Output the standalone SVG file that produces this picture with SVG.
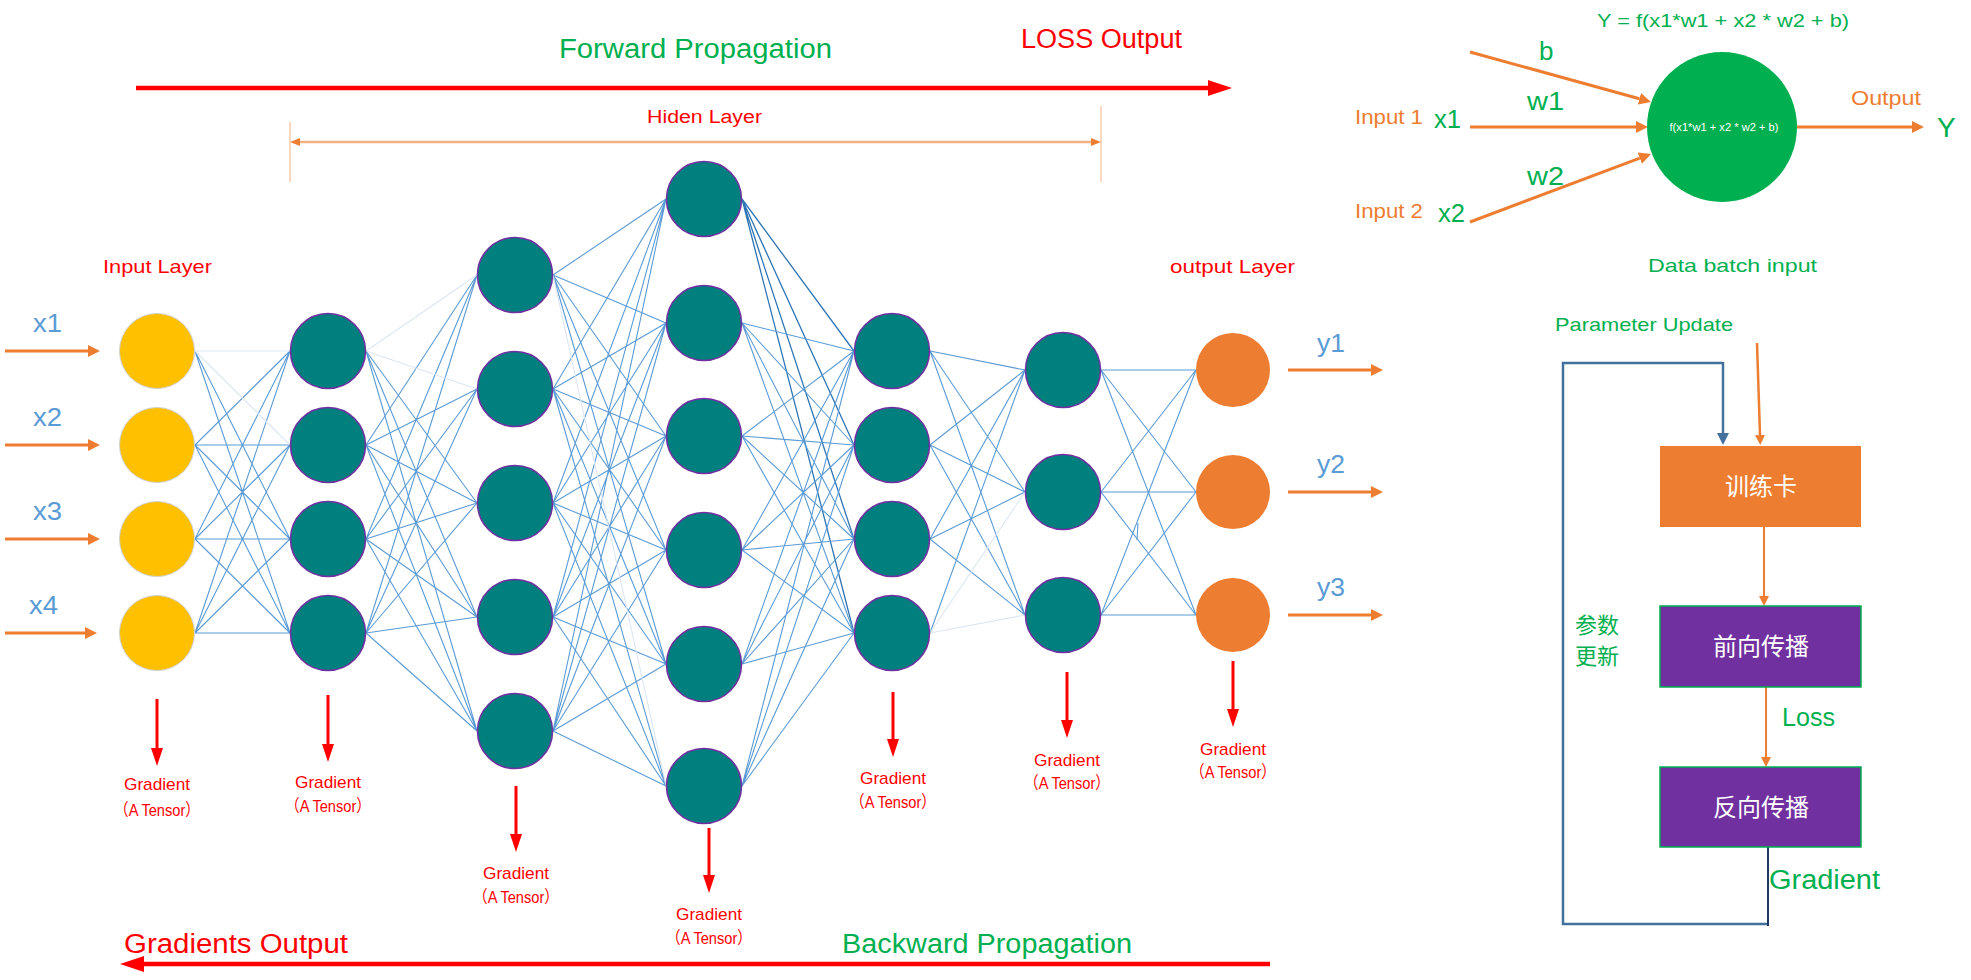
<svg xmlns="http://www.w3.org/2000/svg" width="1971" height="980" viewBox="0 0 1971 980">
<style>
text{font-family:"Liberation Sans","Noto Sans CJK SC",sans-serif}
.cjk{font-family:"Noto Sans CJK SC","Liberation Sans",sans-serif}
.red{fill:#FF0000}
.green{fill:#00B050}
.orange{fill:#ED7D31}
.blue{fill:#5B9BD5}
.conn{stroke:#5B9BD5;stroke-width:1.1;fill:none}
.faint{stroke:#DCE6F4;stroke-width:1.1;fill:none}
.dark{stroke:#2E75B6;stroke-width:1.3;fill:none}
.teal{fill:#007F7F;stroke:#7030A0;stroke-width:1.6}
.yel{fill:#FFC000;stroke:#D0D0D0;stroke-width:1}
.onode{fill:#ED7D31}
.garrow{stroke:#FF0000;stroke-width:3;marker-end:url(#mRed)}
.iarrow{stroke:#ED7D31;stroke-width:3;marker-end:url(#mOr)}
.glab{font-size:17px;fill:#FF0000;text-anchor:middle}
</style>
<defs>
<marker id="mRed" markerUnits="userSpaceOnUse" markerWidth="18" markerHeight="12" viewBox="0 0 18 12" refX="0" refY="6" orient="auto"><path d="M0,0L18,6L0,12z" fill="#FF0000"/></marker>
<marker id="mRedBig" markerUnits="userSpaceOnUse" markerWidth="24" markerHeight="16" viewBox="0 0 24 16" refX="0" refY="8" orient="auto"><path d="M0,0L24,8L0,16z" fill="#FF0000"/></marker>
<marker id="mOr" markerUnits="userSpaceOnUse" markerWidth="12" markerHeight="12" viewBox="0 0 12 12" refX="0" refY="6" orient="auto"><path d="M0,0L12,6L0,12z" fill="#ED7D31"/></marker>
<marker id="mOrS" markerUnits="userSpaceOnUse" markerWidth="10" markerHeight="10" viewBox="0 0 10 10" refX="0" refY="5" orient="auto"><path d="M0,0L10,5L0,10z" fill="#ED7D31"/></marker>
<marker id="mHid" markerUnits="userSpaceOnUse" markerWidth="10" markerHeight="8" viewBox="0 0 10 8" refX="0" refY="4" orient="auto-start-reverse"><path d="M0,0L10,4L0,8z" fill="#ED7D31"/></marker>
<marker id="mBlue" markerUnits="userSpaceOnUse" markerWidth="12" markerHeight="12" viewBox="0 0 12 12" refX="0" refY="6" orient="auto"><path d="M0,0L12,6L0,12z" fill="#41719C"/></marker>
</defs>
<rect width="1971" height="980" fill="#FFFFFF"/>

<!-- connectors -->
<g id="connectors">
<path class="conn" d="M195 351L290 539M195 351L290 633M195 445L290 351M195 445L290 445M195 445L290 539M195 445L290 633M195 539L290 351M195 539L290 445M195 539L290 539M195 539L290 633M195 633L290 351M195 633L290 445M195 633L290 539M195 633L290 633"/>
<path class="faint" d="M195 351L290 351M195 351L290 445"/>
<path class="conn" d="M366 351L477 503M366 351L477 617M366 351L477 731M366 445L477 275M366 445L477 389M366 445L477 503M366 445L477 617M366 445L477 731M366 539L477 275M366 539L477 389M366 539L477 503M366 539L477 617M366 539L477 731M366 633L477 275M366 633L477 389M366 633L477 503M366 633L477 617M366 633L477 731"/>
<path class="faint" d="M366 351L477 275M366 351L477 389"/>
<path class="conn" d="M553 275L666 199M553 275L666 323M553 275L666 436M553 275L666 550M553 275L666 664M553 389L666 199M553 389L666 323M553 389L666 436M553 389L666 550M553 389L666 664M553 389L666 786M553 503L666 199M553 503L666 323M553 503L666 436M553 503L666 550M553 503L666 664M553 503L666 786M553 617L666 199M553 617L666 323M553 617L666 436M553 617L666 550M553 617L666 664M553 617L666 786M553 731L666 199M553 731L666 323M553 731L666 436M553 731L666 550M553 731L666 664M553 731L666 786"/>
<path class="faint" d="M553 275L666 786"/>
<path class="dark" d="M742 199L854 351M742 199L854 445M742 199L854 539M742 199L854 633"/>
<path class="conn" d="M742 323L854 351M742 323L854 445M742 323L854 539M742 323L854 633M742 436L854 351M742 436L854 445M742 436L854 539M742 436L854 633M742 550L854 351M742 550L854 445M742 550L854 539M742 550L854 633M742 664L854 351M742 664L854 445M742 664L854 539M742 664L854 633M742 786L854 351M742 786L854 445M742 786L854 539M742 786L854 633"/>
<path class="conn" d="M930 351L1025 370M930 351L1025 492M930 351L1025 615M930 445L1025 370M930 445L1025 492M930 445L1025 615M930 539L1025 370M930 539L1025 492M930 539L1025 615M930 633L1025 370"/>
<path class="faint" d="M930 633L1025 492M930 633L1025 615"/>
<path class="conn" d="M1101 370L1196 370M1101 370L1196 492M1101 370L1196 615M1101 492L1196 370M1101 492L1196 492M1101 492L1196 615M1101 615L1196 370M1101 615L1196 492M1101 615L1196 615"/>
<path class="conn" d="M1138 523L1137 540"/>
</g>

<!-- input layer -->
<g id="input-layer">
<circle class="yel" cx="157" cy="351" r="37.5"/>
<circle class="yel" cx="157" cy="445" r="37.5"/>
<circle class="yel" cx="157" cy="539" r="37.5"/>
<circle class="yel" cx="157" cy="633" r="37.5"/>
</g>
<g id="hidden-1">
<circle class="teal" cx="328" cy="351" r="37.5"/>
<circle class="teal" cx="328" cy="445" r="37.5"/>
<circle class="teal" cx="328" cy="539" r="37.5"/>
<circle class="teal" cx="328" cy="633" r="37.5"/>
</g>
<g id="hidden-2">
<circle class="teal" cx="515" cy="275" r="37.5"/>
<circle class="teal" cx="515" cy="389" r="37.5"/>
<circle class="teal" cx="515" cy="503" r="37.5"/>
<circle class="teal" cx="515" cy="617" r="37.5"/>
<circle class="teal" cx="515" cy="731" r="37.5"/>
</g>
<g id="hidden-3">
<circle class="teal" cx="704" cy="199" r="37.5"/>
<circle class="teal" cx="704" cy="323" r="37.5"/>
<circle class="teal" cx="704" cy="436" r="37.5"/>
<circle class="teal" cx="704" cy="550" r="37.5"/>
<circle class="teal" cx="704" cy="664" r="37.5"/>
<circle class="teal" cx="704" cy="786" r="37.5"/>
</g>
<g id="hidden-4">
<circle class="teal" cx="892" cy="351" r="37.5"/>
<circle class="teal" cx="892" cy="445" r="37.5"/>
<circle class="teal" cx="892" cy="539" r="37.5"/>
<circle class="teal" cx="892" cy="633" r="37.5"/>
</g>
<g id="hidden-5">
<circle class="teal" cx="1063" cy="370" r="37.5"/>
<circle class="teal" cx="1063" cy="492" r="37.5"/>
<circle class="teal" cx="1063" cy="615" r="37.5"/>
</g>
<g id="output-layer">
<circle class="onode" cx="1233" cy="370" r="37"/>
<circle class="onode" cx="1233" cy="492" r="37"/>
<circle class="onode" cx="1233" cy="615" r="37"/>
</g>

<!-- input / output arrows and labels -->
<g id="io-arrows">
<line class="iarrow" x1="5" y1="351" x2="88" y2="351"/>
<line class="iarrow" x1="5" y1="445" x2="88" y2="445"/>
<line class="iarrow" x1="5" y1="539" x2="88" y2="539"/>
<line class="iarrow" x1="5" y1="633" x2="85" y2="633"/>
<line class="iarrow" x1="1288" y1="370" x2="1371" y2="370"/>
<line class="iarrow" x1="1288" y1="492" x2="1371" y2="492"/>
<line class="iarrow" x1="1288" y1="615" x2="1371" y2="615"/>
<text class="blue" x="33" y="332" font-size="26" textLength="29" lengthAdjust="spacingAndGlyphs">x1</text>
<text class="blue" x="33" y="426" font-size="26" textLength="29" lengthAdjust="spacingAndGlyphs">x2</text>
<text class="blue" x="33" y="520" font-size="26" textLength="29" lengthAdjust="spacingAndGlyphs">x3</text>
<text class="blue" x="29" y="614" font-size="26" textLength="29" lengthAdjust="spacingAndGlyphs">x4</text>
<text class="blue" x="1317" y="352" font-size="26" textLength="28" lengthAdjust="spacingAndGlyphs">y1</text>
<text class="blue" x="1317" y="473" font-size="26" textLength="28" lengthAdjust="spacingAndGlyphs">y2</text>
<text class="blue" x="1317" y="596" font-size="26" textLength="28" lengthAdjust="spacingAndGlyphs">y3</text>
</g>

<!-- titles -->
<g id="titles">
<text class="green" x="559" y="58" font-size="27" textLength="273" lengthAdjust="spacingAndGlyphs">Forward Propagation</text>
<text class="red" x="1021" y="48" font-size="27" textLength="161" lengthAdjust="spacingAndGlyphs">LOSS Output</text>
<line x1="136" y1="88" x2="1208" y2="88" stroke="#FF0000" stroke-width="4.5" marker-end="url(#mRedBig)"/>
<text class="red" x="647" y="123" font-size="18" textLength="115" lengthAdjust="spacingAndGlyphs">Hiden Layer</text>
<line x1="290" y1="122" x2="290" y2="182" stroke="#F4B183" stroke-width="1"/>
<line x1="1101" y1="106" x2="1101" y2="182" stroke="#F4B183" stroke-width="1"/>
<line x1="300" y1="142" x2="1091" y2="142" stroke="#F4B183" stroke-width="2.5" marker-start="url(#mHid)" marker-end="url(#mHid)"/>
<text class="red" x="103" y="273" font-size="19" textLength="109" lengthAdjust="spacingAndGlyphs">Input Layer</text>
<text class="red" x="1170" y="273" font-size="19" textLength="125" lengthAdjust="spacingAndGlyphs">output Layer</text>
<text class="red" x="124" y="953" font-size="27" textLength="224" lengthAdjust="spacingAndGlyphs">Gradients Output</text>
<text class="green" x="842" y="953" font-size="27" textLength="290" lengthAdjust="spacingAndGlyphs">Backward Propagation</text>
<line x1="1270" y1="964" x2="144" y2="964" stroke="#FF0000" stroke-width="4.5" marker-end="url(#mRedBig)"/>
</g>

<!-- gradient arrows -->
<g id="gradients">
<line class="garrow" x1="157" y1="699" x2="157" y2="748"/>
<text class="glab" x="157" y="790" textLength="66" lengthAdjust="spacingAndGlyphs">Gradient</text>
<text class="glab" x="157" y="816" textLength="86" lengthAdjust="spacingAndGlyphs">（A Tensor）</text>
<line class="garrow" x1="328" y1="695" x2="328" y2="744"/>
<text class="glab" x="328" y="788" textLength="66" lengthAdjust="spacingAndGlyphs">Gradient</text>
<text class="glab" x="328" y="812" textLength="86" lengthAdjust="spacingAndGlyphs">（A Tensor）</text>
<line class="garrow" x1="516" y1="786" x2="516" y2="834"/>
<text class="glab" x="516" y="879" textLength="66" lengthAdjust="spacingAndGlyphs">Gradient</text>
<text class="glab" x="516" y="903" textLength="86" lengthAdjust="spacingAndGlyphs">（A Tensor）</text>
<line class="garrow" x1="709" y1="828" x2="709" y2="875"/>
<text class="glab" x="709" y="920" textLength="66" lengthAdjust="spacingAndGlyphs">Gradient</text>
<text class="glab" x="709" y="944" textLength="86" lengthAdjust="spacingAndGlyphs">（A Tensor）</text>
<line class="garrow" x1="893" y1="692" x2="893" y2="739"/>
<text class="glab" x="893" y="784" textLength="66" lengthAdjust="spacingAndGlyphs">Gradient</text>
<text class="glab" x="893" y="808" textLength="86" lengthAdjust="spacingAndGlyphs">（A Tensor）</text>
<line class="garrow" x1="1067" y1="672" x2="1067" y2="720"/>
<text class="glab" x="1067" y="766" textLength="66" lengthAdjust="spacingAndGlyphs">Gradient</text>
<text class="glab" x="1067" y="789" textLength="86" lengthAdjust="spacingAndGlyphs">（A Tensor）</text>
<line class="garrow" x1="1233" y1="661" x2="1233" y2="709"/>
<text class="glab" x="1233" y="755" textLength="66" lengthAdjust="spacingAndGlyphs">Gradient</text>
<text class="glab" x="1233" y="778" textLength="86" lengthAdjust="spacingAndGlyphs">（A Tensor）</text>
</g>

<!-- single neuron -->
<g id="neuron">
<text class="green" x="1597" y="27" font-size="18" textLength="252" lengthAdjust="spacingAndGlyphs">Y = f(x1*w1 + x2 * w2 + b)</text>
<line x1="1470" y1="52" x2="1639.4" y2="98.8" stroke="#ED7D31" stroke-width="3" marker-end="url(#mOr)"/>
<line x1="1470" y1="127" x2="1636" y2="127" stroke="#ED7D31" stroke-width="3" marker-end="url(#mOr)"/>
<line x1="1470" y1="222" x2="1639.8" y2="158.2" stroke="#ED7D31" stroke-width="3" marker-end="url(#mOr)"/>
<line x1="1797" y1="127" x2="1912" y2="127" stroke="#ED7D31" stroke-width="3" marker-end="url(#mOr)"/>
<circle cx="1722" cy="127" r="75" fill="#00B050"/>
<text x="1724" y="131" font-size="11" fill="#FFFFFF" text-anchor="middle" textLength="109" lengthAdjust="spacingAndGlyphs">f(x1*w1 + x2 * w2 + b)</text>
<text class="green" x="1539" y="60" font-size="26">b</text>
<text class="green" x="1527" y="110" font-size="26" textLength="37" lengthAdjust="spacingAndGlyphs">w1</text>
<text class="green" x="1527" y="185" font-size="26" textLength="37" lengthAdjust="spacingAndGlyphs">w2</text>
<text class="orange" x="1355" y="124" font-size="21" textLength="68" lengthAdjust="spacingAndGlyphs">Input 1</text>
<text class="orange" x="1355" y="218" font-size="21" textLength="68" lengthAdjust="spacingAndGlyphs">Input 2</text>
<text class="green" x="1434" y="128" font-size="26" textLength="27" lengthAdjust="spacingAndGlyphs">x1</text>
<text class="green" x="1438" y="222" font-size="26" textLength="27" lengthAdjust="spacingAndGlyphs">x2</text>
<text class="orange" x="1851" y="105" font-size="21" textLength="70" lengthAdjust="spacingAndGlyphs">Output</text>
<text class="green" x="1937" y="137" font-size="28">Y</text>
</g>

<!-- training flow -->
<g id="flow-connectors">
<path d="M1723,363L1563,363L1563,924L1768,924" fill="none" stroke="#41719C" stroke-width="2.5"/>
<line x1="1723" y1="362" x2="1723" y2="433" stroke="#41719C" stroke-width="2.5" marker-end="url(#mBlue)"/>
<line x1="1768" y1="847" x2="1768" y2="926" stroke="#203864" stroke-width="2"/>
<line x1="1757" y1="343" x2="1760" y2="435" stroke="#ED7D31" stroke-width="2.5" marker-end="url(#mOrS)"/>
<line x1="1764" y1="527" x2="1764" y2="596" stroke="#ED7D31" stroke-width="2" marker-end="url(#mOrS)"/>
<line x1="1766" y1="687" x2="1766" y2="757" stroke="#ED7D31" stroke-width="2" marker-end="url(#mOrS)"/>
</g>
<g id="flow-labels">
<text class="green" x="1648" y="272" font-size="19" textLength="169" lengthAdjust="spacingAndGlyphs">Data batch input</text>
<text class="green" x="1555" y="331" font-size="19" textLength="178" lengthAdjust="spacingAndGlyphs">Parameter Update</text>
<text class="green" x="1782" y="726" font-size="26" textLength="53" lengthAdjust="spacingAndGlyphs">Loss</text>
<text class="green" x="1769" y="889" font-size="27" textLength="111" lengthAdjust="spacingAndGlyphs">Gradient</text>
<text class="green cjk" font-size="22"><tspan x="1575" y="633">参数</tspan><tspan x="1575" y="664">更新</tspan></text>
</g>
<g id="box-train">
<rect x="1660" y="446" width="201" height="81" fill="#ED7D31"/>
<text class="cjk" x="1761" y="495" font-size="24" fill="#FFFFFF" text-anchor="middle">训练卡</text>
</g>
<g id="box-forward">
<rect x="1660" y="606" width="201" height="81" fill="#7030A0" stroke="#00B050" stroke-width="1.5"/>
<text class="cjk" x="1761" y="655" font-size="24" fill="#FFFFFF" text-anchor="middle">前向传播</text>
</g>
<g id="box-backward">
<rect x="1660" y="767" width="201" height="80" fill="#7030A0" stroke="#00B050" stroke-width="1.5"/>
<text class="cjk" x="1761" y="816" font-size="24" fill="#FFFFFF" text-anchor="middle">反向传播</text>
</g>
</svg>
